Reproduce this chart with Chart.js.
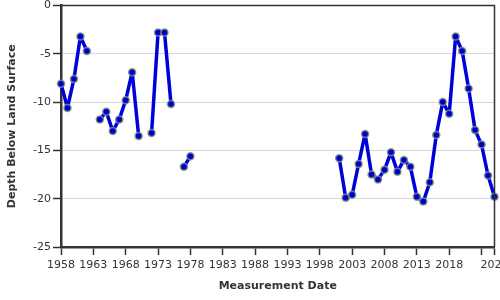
<!DOCTYPE html>
<html>
<head>
<meta charset="utf-8">
<script src="https://cdn.jsdelivr.net/npm/chart.js@4/dist/chart.umd.min.js"></script>
<style>
  html, body { margin: 0; padding: 0; background: #fff; overflow: hidden; }
  #wrap { width: 500px; height: 300px; position: relative; }
</style>
</head>
<body>
<div id="wrap"><canvas id="depth-chart"></canvas></div>
<script>
// measurement years; null depth breaks the line where a year is missing
const years = [
  1958, 1959, 1960, 1961, 1962, 1963,
  1964, 1965, 1966, 1967, 1968, 1969, 1970, 1971,
  1972, 1973, 1974, 1975, 1976,
  1977, 1978, 1979,
  2001, 2002, 2003, 2004, 2005, 2006, 2007, 2008, 2009, 2010, 2011, 2012,
  2013, 2014, 2015, 2016, 2017, 2018, 2019, 2020, 2021, 2022, 2023, 2024, 2025
];
const depths = [
  -8.1, -10.6, -7.6, -3.2, -4.7, null,
  -11.8, -11.0, -13.0, -11.8, -9.8, -6.9, -13.5, null,
  -13.2, -2.8, -2.8, -10.2, null,
  -16.7, -15.6, null,
  -15.8, -19.9, -19.6, -16.4, -13.3, -17.5, -18.0, -17.0, -15.2, -17.2, -16.0, -16.7,
  -19.8, -20.3, -18.3, -13.4, -10.0, -11.2, -3.2, -4.7, -8.6, -12.9, -14.4, -17.6, -19.8
];
const xTicks = [1958, 1963, 1968, 1973, 1978, 1983, 1988, 1993, 1998, 2003, 2008, 2013, 2018, 2023, 2025];
const hiddenXLabels = [2023];
const yTicks = [0, -5, -10, -15, -20, -25];

const ink = '#333333';
const tickFont = { family: 'DejaVu Sans', size: 11 };
const titleFont = { family: 'DejaVu Sans', size: 11, weight: 'bold' };

// top and right edges of the plot box
const frame = {
  id: 'frame',
  afterDraw(chart) {
    const { ctx, chartArea: a } = chart;
    ctx.save();
    ctx.strokeStyle = ink;
    ctx.lineWidth = 1.5;
    ctx.beginPath();
    ctx.moveTo(a.left, a.top);
    ctx.lineTo(a.right, a.top);
    ctx.lineTo(a.right, a.bottom);
    ctx.stroke();
    ctx.restore();
  }
};

const noPad = (scale) => {
  scale.paddingLeft = 0;
  scale.paddingRight = 0;
  scale.paddingTop = 0;
  scale.paddingBottom = 0;
};

new Chart(document.getElementById('depth-chart'), {
  type: 'line',
  data: {
    datasets: [{
      data: years.map((y, i) => ({ x: y, y: depths[i] })),
      borderColor: '#0000d8',
      borderWidth: 3.5,
      borderJoinStyle: 'round',
      borderCapStyle: 'round',
      pointBackgroundColor: '#0000d0',
      pointBorderColor: 'rgba(125,145,120,0.85)',
      pointBorderWidth: 1.5,
      pointRadius: 3.5,
      spanGaps: false,
      tension: 0,
      clip: 8
    }]
  },
  plugins: [frame],
  options: {
    responsive: true,
    maintainAspectRatio: false,
    animation: false,
    layout: { padding: { top: 4, right: 5, bottom: 0, left: 0 } },
    plugins: { legend: { display: false }, tooltip: { enabled: false } },
    scales: {
      x: {
        type: 'linear',
        min: 1958,
        max: 2025,
        afterBuildTicks: (scale) => { scale.ticks = xTicks.map(v => ({ value: v })); },
        afterFit: (scale) => { scale.height = 53; noPad(scale); },
        border: { color: ink, width: 2.5 },
        grid: { drawOnChartArea: false, tickLength: 8, tickColor: ink, tickWidth: 1.5 },
        ticks: {
          autoSkip: false,
          maxRotation: 0,
          padding: 4,
          color: ink,
          font: tickFont,
          callback: (v) => hiddenXLabels.includes(v) ? '' : String(v)
        },
        title: {
          display: true,
          text: 'Measurement Date',
          color: ink,
          font: titleFont,
          padding: { top: 0, bottom: 7 }
        }
      },
      y: {
        min: -25,
        max: 0,
        afterBuildTicks: (scale) => { scale.ticks = yTicks.map(v => ({ value: v })); },
        afterFit: (scale) => { scale.width = 61; noPad(scale); },
        border: { color: ink, width: 2.5 },
        grid: { color: '#d8d8d8', lineWidth: 1, tickLength: 8, tickColor: ink, tickWidth: 1.5 },
        ticks: {
          padding: 2,
          color: ink,
          font: tickFont,
          callback: (v) => String(v)
        },
        title: {
          display: true,
          text: 'Depth Below Land Surface',
          color: ink,
          font: titleFont,
          padding: { top: 6, bottom: 0 }
        }
      }
    }
  }
});
</script>
</body>
</html>
